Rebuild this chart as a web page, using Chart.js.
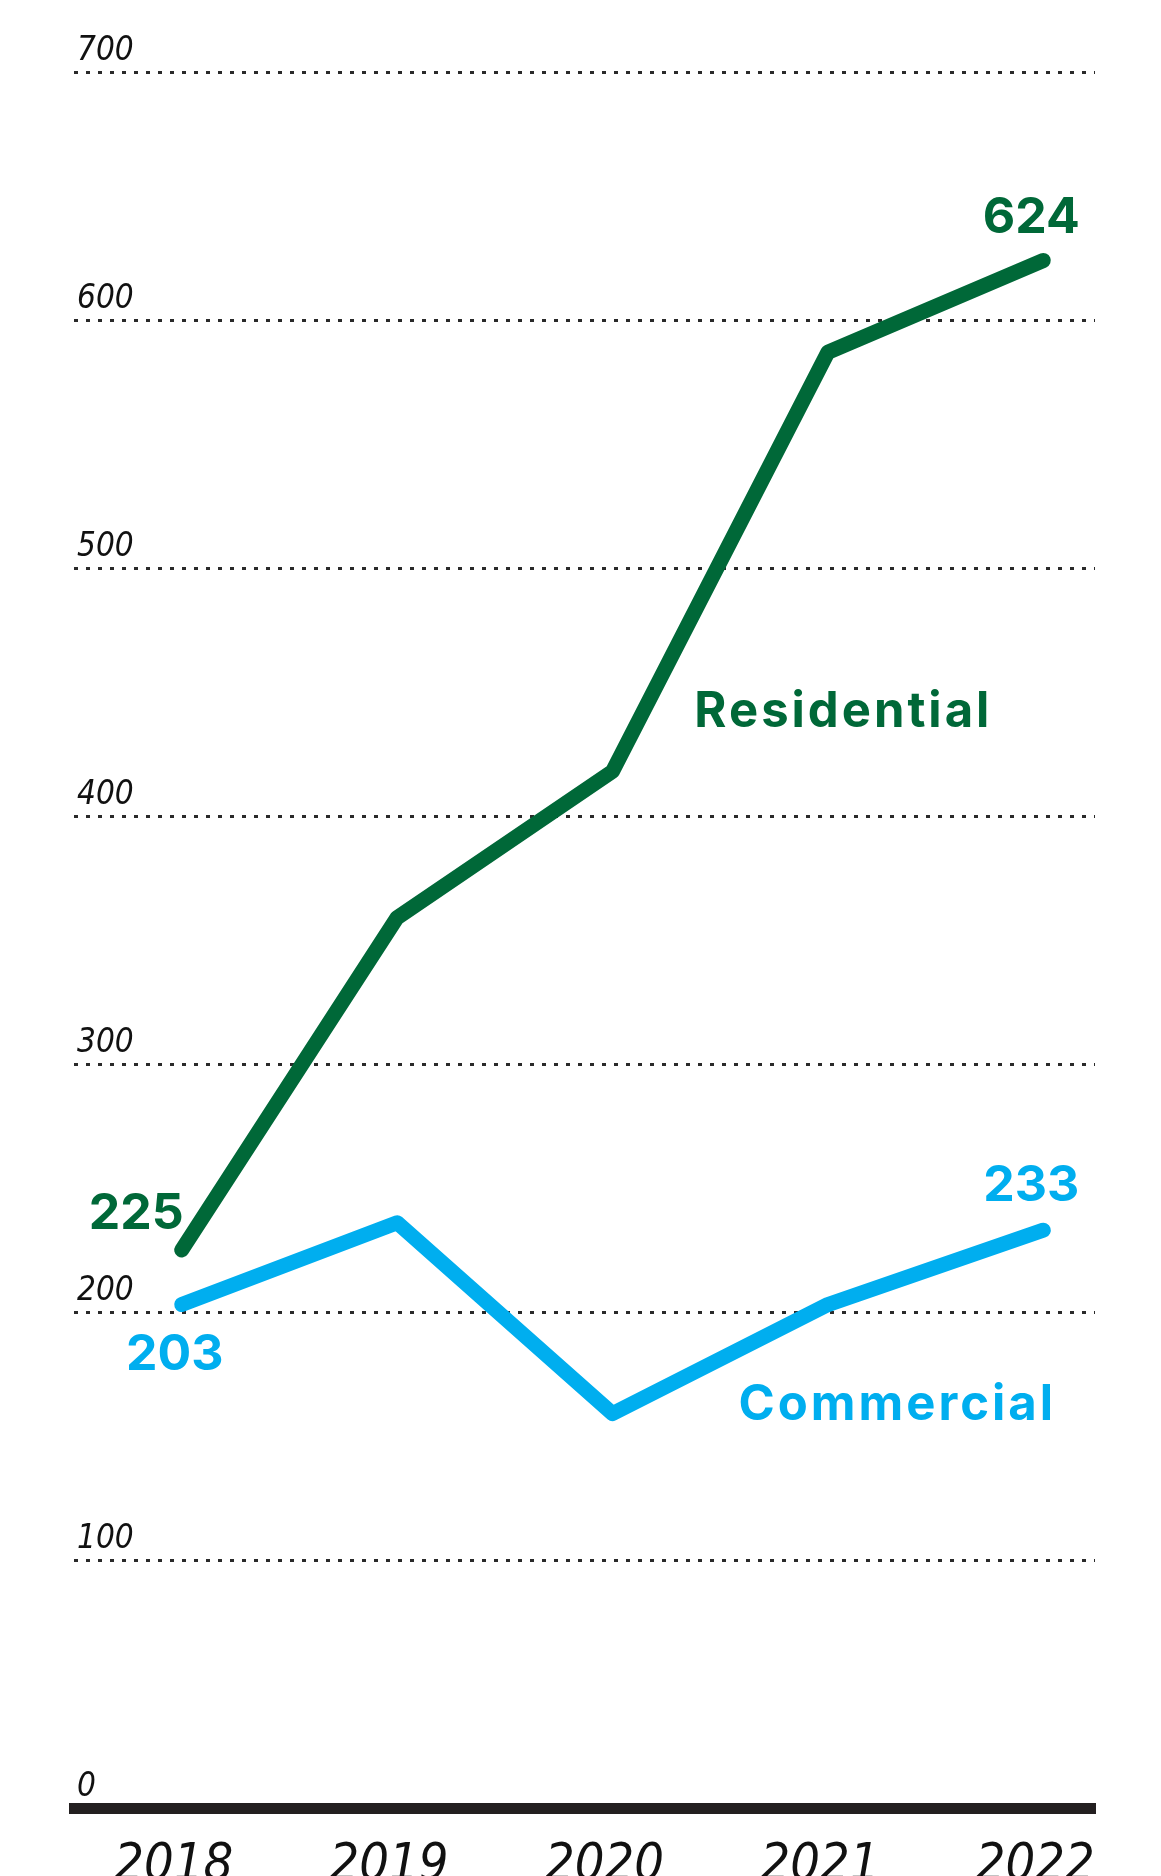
<!DOCTYPE html>
<html>
<head>
<meta charset="utf-8">
<script src="https://cdn.jsdelivr.net/npm/chart.js@4"></script>
<style>
  html, body { margin: 0; padding: 0; background: #fff; }
  #wrap { width: 1161px; height: 1876px; }
</style>
</head>
<body>
<div id="wrap"><canvas id="chart" width="1161" height="1876"></canvas></div>
<script>
// values
const years = [2018, 2019, 2020, 2021, 2022];
const residential = [225, 359, 418, 587, 624];
const commercial = [203, 236, 159, 203, 233];
const yTicks = [0, 100, 200, 300, 400, 500, 600, 700];

const GREEN = '#006838';
const BLUE = '#00aeef';

// series names placed in data space
const seriesNames = [
    { text: 'Residential', x: 2020.38, y: 436, color: GREEN },
    { text: 'Commercial', x: 2020.585, y: 156.5, color: BLUE }
];

const toPoints = vals => years.map((yr, i) => ({ x: yr, y: vals[i] }));

// draws the end values and the series names
const labelPlugin = {
    id: 'labels',
    afterDatasetsDraw(chart) {
        const { ctx, scales: { x, y } } = chart;
        ctx.save();
        ctx.font = 'bold 50px Inter, "Open Sans", sans-serif';
        ctx.textBaseline = 'alphabetic';
        const put = (txt, vx, vy, dx, dy, align, color) => {
            ctx.fillStyle = color;
            ctx.textAlign = align;
            ctx.fillText(txt, x.getPixelForValue(vx) + dx, y.getPixelForValue(vy) + dy);
        };
        ctx.letterSpacing = '0px';
        put(String(residential[0]), years[0], residential[0], 2, -21, 'right', GREEN);
        put(String(residential[4]), years[4], residential[4], -12, -27, 'center', GREEN);
        put(String(commercial[0]), years[0], commercial[0], -7, 65, 'center', BLUE);
        put(String(commercial[4]), years[4], commercial[4], -12, -29, 'center', BLUE);

        ctx.font = 'bold 49px Inter, "Open Sans", sans-serif';
        ctx.letterSpacing = '3px';
        seriesNames.forEach(s => put(s.text, s.x, s.y, 0, 0, 'left', s.color));
        ctx.restore();
    }
};

const ctx = document.getElementById('chart').getContext('2d');
new Chart(ctx, {
    type: 'line',
    data: {
        datasets: [
            { label: 'Residential', data: toPoints(residential), borderColor: GREEN, borderWidth: 15, borderCapStyle: 'round', borderJoinStyle: 'round', pointRadius: 0, tension: 0 },
            { label: 'Commercial', data: toPoints(commercial), borderColor: BLUE, borderWidth: 15, borderCapStyle: 'round', borderJoinStyle: 'round', pointRadius: 0, tension: 0 }
        ]
    },
    options: {
        responsive: false,
        animation: false,
        layout: { padding: { left: 74, right: 66, top: 72, bottom: 0 } },
        plugins: { legend: { display: false }, tooltip: { enabled: false } },
        scales: {
            x: {
                type: 'linear',
                min: 2017.5,
                max: 2022.24,
                afterFit: s => { s.height = 68; },
                grid: { display: false, drawTicks: false },
                border: { display: true, color: '#231f20', width: 11 },
                ticks: {
                    stepSize: 1,
                    includeBounds: false,
                    autoSkip: false,
                    maxRotation: 0,
                    padding: 27,
                    labelOffset: -8,
                    color: '#111',
                    font: { family: '"DejaVu Sans Condensed", "DejaVu Sans", sans-serif', size: 52, style: 'italic' },
                    callback: v => String(v)
                }
            },
            y: {
                min: 0,
                max: 700,
                afterFit: s => { s.width = 0; },
                afterBuildTicks: s => { s.ticks = yTicks.map(v => ({ value: v })); },
                grid: {
                    drawTicks: false,
                    lineWidth: 3,
                    color: c => (c.tick && c.tick.value === 0) ? 'rgba(0,0,0,0)' : '#2a2a2a'
                },
                border: { display: false, dash: [4, 8] },
                ticks: {
                    mirror: true,
                    padding: 3,
                    labelOffset: -21,
                    color: '#111',
                    font: { family: '"DejaVu Sans Condensed", "DejaVu Sans", sans-serif', size: 33, style: 'italic' },
                    callback: v => String(v)
                }
            }
        }
    },
    plugins: [labelPlugin]
});
</script>
</body>
</html>
